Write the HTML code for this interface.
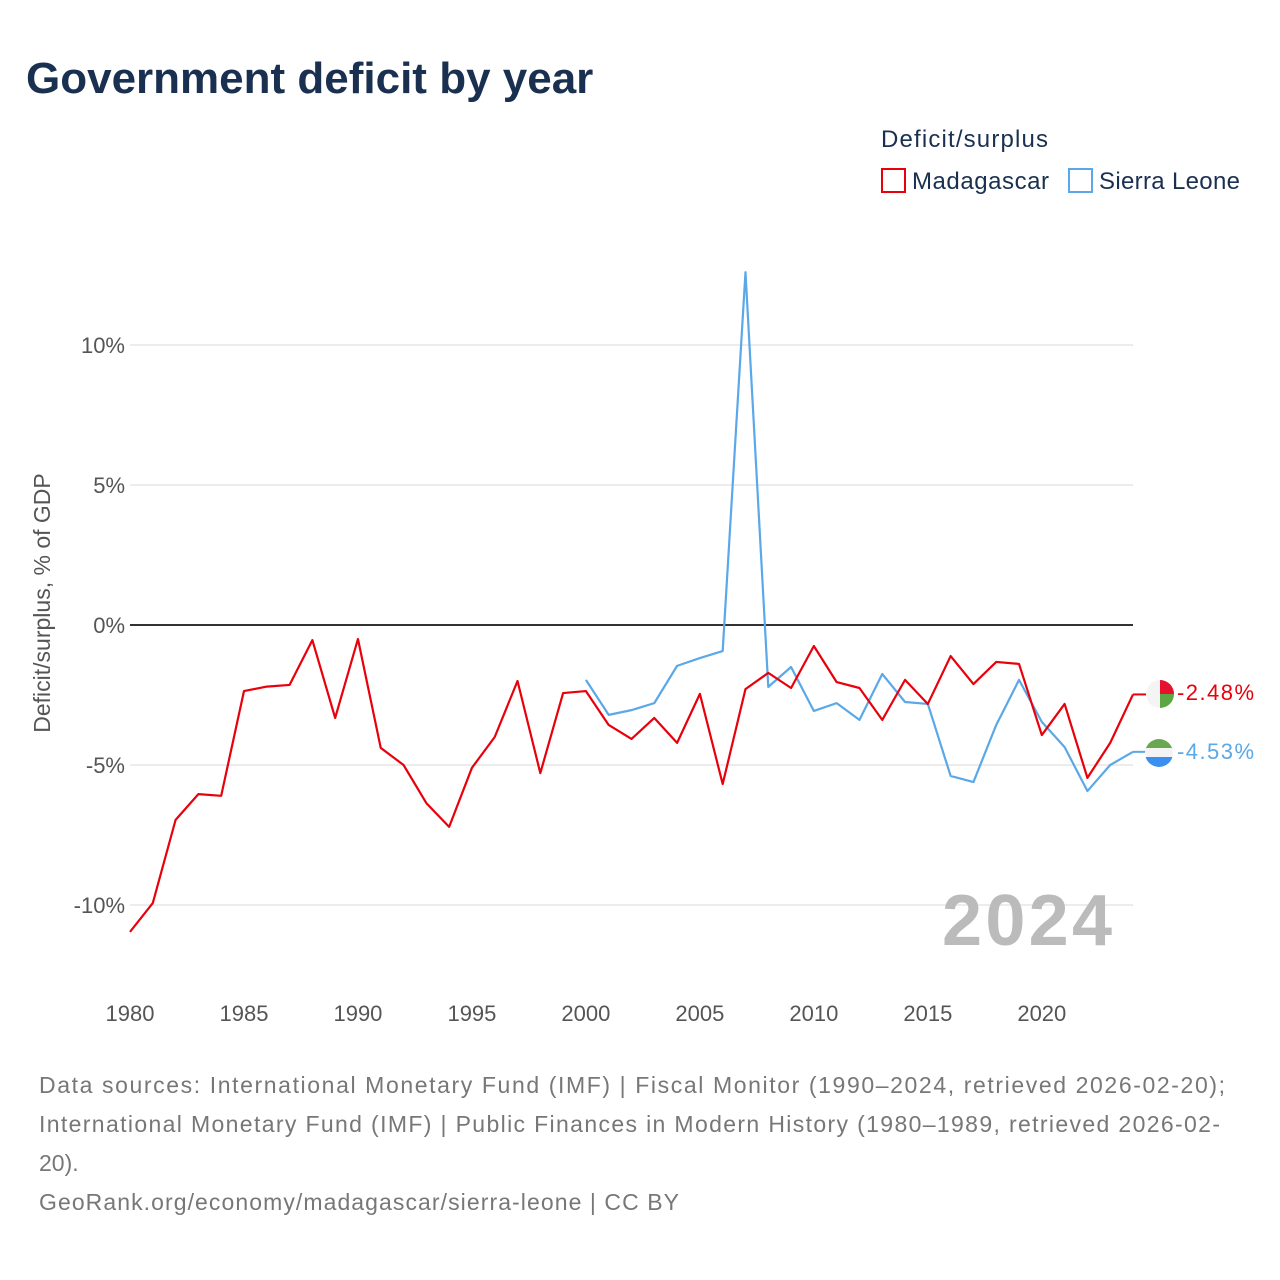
<!DOCTYPE html>
<html><head><meta charset="utf-8"><style>
body{margin:0;background:#fff;font-family:"Liberation Sans",sans-serif;}
</style></head><body>
<svg id="chart" width="1280" height="1280" xmlns="http://www.w3.org/2000/svg" style="display:block">
<text x="26" y="93" font-size="44" font-weight="bold" fill="#1a3050">Government deficit by year</text>
<text x="881" y="147" font-size="24" fill="#1a3050" textLength="167">Deficit/surplus</text>
<g><rect x="882" y="169" width="23" height="23" fill="none" stroke="#e8000b" stroke-width="2"/><text x="912" y="189" font-size="24" fill="#1a3050" textLength="137">Madagascar</text></g>
<g><rect x="1069" y="169" width="23" height="23" fill="none" stroke="#5aa8e8" stroke-width="2"/><text x="1099" y="189" font-size="24" fill="#1a3050" textLength="141">Sierra Leone</text></g>
<text transform="translate(50,603) rotate(-90)" text-anchor="middle" font-size="23" fill="#555">Deficit/surplus, % of GDP</text>
<g id="grid"></g>
<text x="1112" y="945" text-anchor="end" font-size="72" font-weight="bold" fill="#bbb" textLength="170">2024</text>
<g id="series"></g>
<g>
<circle cx="1160" cy="694" r="14" fill="#f4f4f4"/>
<path d="M1160 694 V680 A14 14 0 0 1 1174 694 Z" fill="#e8112d"/>
<path d="M1160 694 H1174 A14 14 0 0 1 1160 708 Z" fill="#5ca743"/>
</g>
<g>
<clipPath id="c2"><circle cx="1159" cy="753" r="14"/></clipPath>
<g clip-path="url(#c2)"><rect x="1140" y="739" width="40" height="10" fill="#6aa84f"/><rect x="1140" y="748" width="40" height="10" fill="#f4f4f4"/><rect x="1140" y="757" width="40" height="12" fill="#3a8ff0"/></g>
</g>
<text x="1177" y="700" font-size="22" fill="#e8000b" textLength="77">-2.48%</text>
<text x="1177" y="759" font-size="22" fill="#5aa8e8" textLength="77">-4.53%</text>
<g font-size="23" fill="#777">
<text x="39" y="1093" textLength="1186">Data sources: International Monetary Fund (IMF) | Fiscal Monitor (1990–2024, retrieved 2026-02-20);</text>
<text x="39" y="1132" textLength="1181">International Monetary Fund (IMF) | Public Finances in Modern History (1980–1989, retrieved 2026-02-</text>
<text x="39" y="1171">20).</text>
<text x="39" y="1210" textLength="640">GeoRank.org/economy/madagascar/sierra-leone | CC BY</text>
</g>
</svg>
<script>
const yTicks=[10,5,0,-5,-10];
const xTicks=[1980,1985,1990,1995,2000,2005,2010,2015,2020];
const mdgYears=[];for(let y=1980;y<=2024;y++)mdgYears.push(y);
const mdgValues=[-10.96,-9.93,-6.96,-6.04,-6.1,-2.36,-2.2,-2.14,-0.54,-3.32,-0.5,-4.39,-5.0,-6.36,-7.21,-5.1,-4.0,-2.0,-5.29,-2.43,-2.36,-3.57,-4.07,-3.32,-4.21,-2.46,-5.68,-2.29,-1.71,-2.25,-0.75,-2.04,-2.25,-3.39,-1.96,-2.82,-1.11,-2.11,-1.32,-1.39,-3.93,-2.82,-5.46,-4.21,-2.48];
const sleYears=[];for(let y=2000;y<=2024;y++)sleYears.push(y);
const sleValues=[-1.96,-3.21,-3.04,-2.79,-1.46,-1.18,-0.93,12.6,-2.21,-1.5,-3.07,-2.79,-3.39,-1.75,-2.75,-2.82,-5.39,-5.61,-3.57,-1.96,-3.46,-4.36,-5.93,-5.0,-4.53];
const X=yr=>130+(yr-1980)*(1003/44);
const Y=v=>625-v*28;
const NS='http://www.w3.org/2000/svg';
const grid=document.getElementById('grid');
yTicks.forEach(t=>{
 const l=document.createElementNS(NS,'line');
 
 
 l.setAttribute('x1',130);l.setAttribute('x2',1133);l.setAttribute('y1',Y(t));l.setAttribute('y2',Y(t));
 l.setAttribute('stroke',t===0?'#333':'#e6e6e6');l.setAttribute('stroke-width',t===0?2:1.5);
 grid.appendChild(l);
 const tx=document.createElementNS(NS,'text');
 
 
 tx.setAttribute('x',125);tx.setAttribute('y',Y(t)+8);tx.setAttribute('text-anchor','end');
 tx.setAttribute('font-size','22');tx.setAttribute('fill','#555');tx.textContent=t+'%';
 grid.appendChild(tx);
});
xTicks.forEach(t=>{
 const tx=document.createElementNS(NS,'text');
 
 
 tx.setAttribute('x',X(t));tx.setAttribute('y',1021);tx.setAttribute('text-anchor','middle');
 tx.setAttribute('font-size','22');tx.setAttribute('fill','#555');tx.textContent=t;
 grid.appendChild(tx);
});
const ser=document.getElementById('series');
function line(years,vals,color,name){
 const p=document.createElementNS(NS,'polyline');
 
 
 p.setAttribute('points',years.map((y,i)=>X(y)+','+Y(vals[i])).join(' '));
 p.setAttribute('fill','none');p.setAttribute('stroke',color);p.setAttribute('stroke-width','2.2');
 p.setAttribute('stroke-linejoin','round');
 ser.appendChild(p);
 const c=document.createElementNS(NS,'line');
 
 
 const ly=Y(vals[vals.length-1]);
 c.setAttribute('x1',X(years[years.length-1]));c.setAttribute('x2',1146);c.setAttribute('y1',ly);c.setAttribute('y2',ly);
 c.setAttribute('stroke',color);c.setAttribute('stroke-width','2');
 ser.appendChild(c);
}
line(sleYears,sleValues,'#5aa8e8','sierra-leone-line');
line(mdgYears,mdgValues,'#e8000b','madagascar-line');
</script>
</body></html>
